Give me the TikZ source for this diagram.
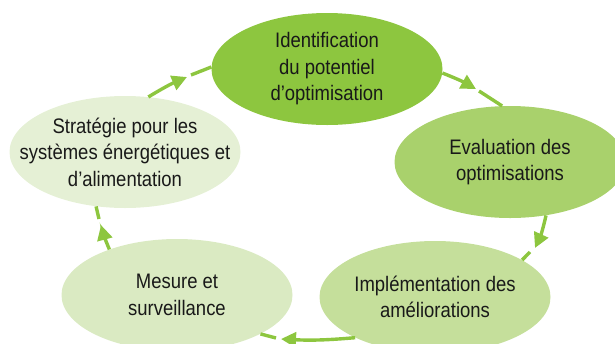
\documentclass[tikz,border=0pt]{standalone}
\usepackage{fontspec}
\setmainfont[FakeStretch=0.88]{Liberation Sans}
\usetikzlibrary{shapes.geometric,arrows.meta}
\definecolor{gA}{HTML}{8DC63F}
\definecolor{gB}{HTML}{A9D16C}
\definecolor{gC}{HTML}{C5DF9B}
\definecolor{gD}{HTML}{DAEAC2}
\definecolor{gE}{HTML}{E5F0D5}
\begin{document}
\begin{tikzpicture}[x=1pt,y=-1pt,
  phase/.style={ellipse, minimum width=231pt, minimum height=112pt, inner sep=0pt},
  caption/.style={align=center, text=black!90, font=\fontsize{21}{26.5}\selectfont},
  flow/.style={draw=gA, line width=3.4pt},
  tip/.style={flow, -{Triangle[length=15pt,width=15pt]}}]
\useasboundingbox (0,0) rectangle (615,343);
% the five phases
\node[phase, fill=gA, label={[caption]center:Identification\\du potentiel\\d'optimisation}] (ident) at (327,69) {};
\node[phase, fill=gB, label={[caption]center:Evaluation des\\optimisations}] (eval) at (510,162) {};
\node[phase, fill=gC, label={[caption]center:Implémentation des\\améliorations}] (impl) at (435,297) {};
\node[phase, fill=gD, label={[caption]center:Mesure et\\surveillance}] (mesure) at (177,295) {};
\node[phase, fill=gE, label={[caption]center:Stratégie pour les\\systèmes énergétiques et\\d'alimentation}] (strat) at (125,152) {};
% arrow tips and the small gaps behind them
\coordinate (t1) at (476,89);  \coordinate (g1) at (479,91);
\coordinate (t2) at (535,248); \coordinate (g2) at (530,252);
\coordinate (t3) at (281,339); \coordinate (g3) at (276,338);
\coordinate (t4) at (101,225); \coordinate (g4) at (99,219);
\coordinate (t5) at (187,77);  \coordinate (g5) at (191,75);
\draw[tip] (ident.-2) to[bend left=4] (t1);
\draw[flow] (g1) -- (eval.98);
\draw[tip] (eval.-56) to[bend left=6] (t2);
\draw[flow] (g2) -- (impl.23);
\draw[tip] (impl.207) to[bend left=4] (t3);
\draw[flow] (g3) -- (mesure.-25);
\draw[tip] (mesure.146) to[bend left=4] (t4);
\draw[flow] (g4) -- (strat.242);
\draw[tip] (strat.67) to[bend left=4] (t5);
\draw[flow] (g5) -- (ident.179);
\end{tikzpicture}
\end{document}
